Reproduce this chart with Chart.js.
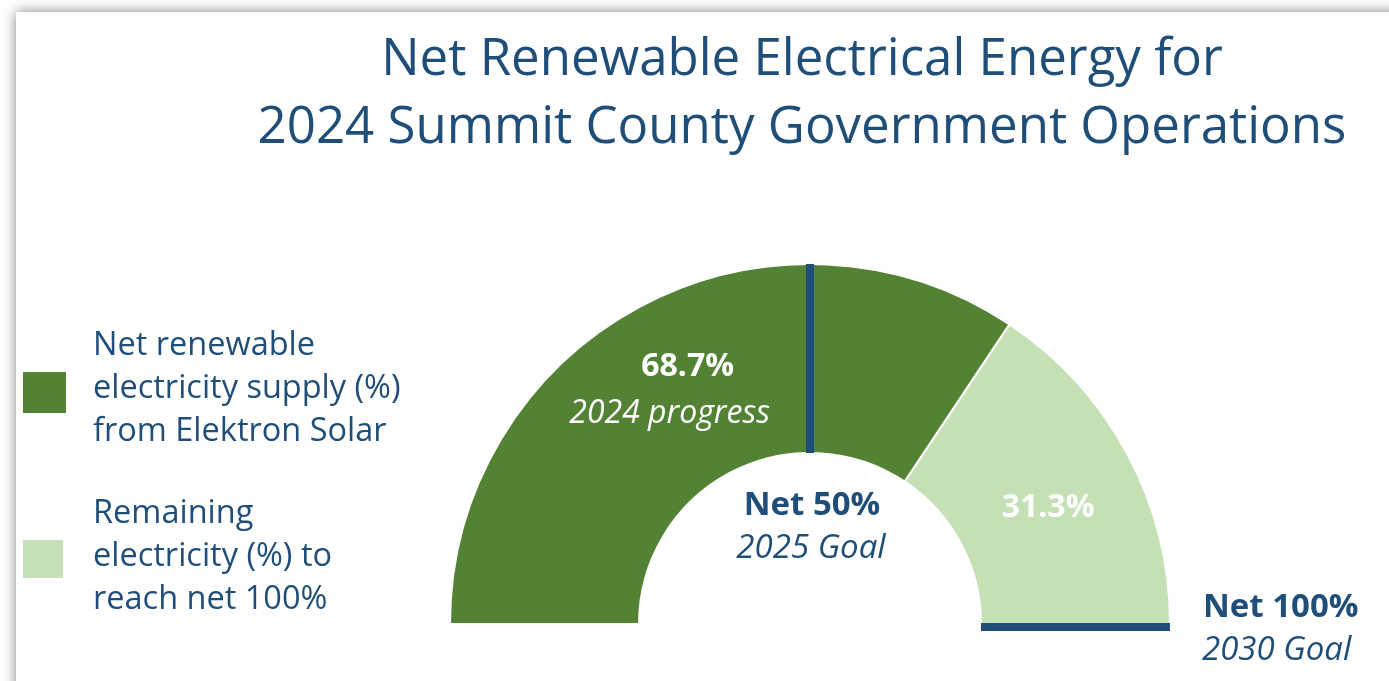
<!DOCTYPE html>
<html>
<head>
<meta charset="utf-8">
<script src="https://cdn.jsdelivr.net/npm/chart.js@4.4.1/dist/chart.umd.min.js"></script>
<style>
    html, body { margin: 0; padding: 0; background: #fff; overflow: hidden; }
    #panel { position: absolute; left: 16px; top: 12px; width: 1420px; height: 720px; background: #fff; box-shadow: 0 0 12px rgba(0, 0, 0, 0.5); }
    #wrap { position: absolute; left: 0; top: 0; width: 1389px; height: 681px; }
</style>
</head>
<body>
<div id="panel"></div>
<div id="wrap"><canvas id="renewableGauge"></canvas></div>
<script>
// data
const categories = ['Net renewable electricity supply (%) from Elektron Solar', 'Remaining electricity (%) to reach net 100%'];
const values = [68.7, 31.3];
const colours = ['#548235', '#c5e0b4'];
const sliceNotes = ['2024 progress', ''];
const goalValues = [50, 100];
const goalLabels = ['Net 50%', 'Net 100%'];
const goalNotes = ['2025 Goal', '2030 Goal'];
const titleLines = ['Net Renewable Electrical Energy for', '2024 Summit County Government Operations'];
const legendLines = [
    ['Net renewable', 'electricity supply (%)', 'from Elektron Solar'],
    ['Remaining', 'electricity (%) to', 'reach net 100%']
];

const BLUE = '#1f4e79';
const FONT = '"Open Sans", sans-serif';

const gaugeText = {
    id: 'gaugeText',
    afterDatasetsDraw: (chart) => {
        const { ctx } = chart;
        const meta = chart.getDatasetMeta(0);
        const arc = meta.data[0];
        const { x, y, innerRadius, outerRadius } = arc.getProps(['x', 'y', 'innerRadius', 'outerRadius'], true);
        ctx.save();

        // goal markers
        goalValues.forEach((g, i) => {
            const a = -Math.PI + g / 100 * Math.PI;
            const off = Math.abs(Math.sin(a)) < 0.1 ? 3 : 0;
            ctx.strokeStyle = BLUE;
            ctx.lineWidth = 8;
            ctx.beginPath();
            ctx.moveTo(x + Math.cos(a) * innerRadius, y + Math.sin(a) * innerRadius + off);
            ctx.lineTo(x + Math.cos(a) * outerRadius, y + Math.sin(a) * outerRadius + off);
            ctx.stroke();

            ctx.fillStyle = BLUE;
            ctx.textBaseline = 'alphabetic';
            if (Math.abs(Math.cos(a)) < 0.5) {
                ctx.textAlign = 'center';
                ctx.font = 'bold 33px ' + FONT;
                ctx.fillText(goalLabels[i], x + 2, y - innerRadius + 62);
                ctx.font = 'italic 33px ' + FONT;
                ctx.fillText(goalNotes[i], x + 1, y - innerRadius + 105);
            } else {
                ctx.textAlign = 'left';
                ctx.font = 'bold 33px ' + FONT;
                ctx.fillText(goalLabels[i], x + outerRadius + 33, y - 7);
                ctx.font = 'italic 33px ' + FONT;
                ctx.fillText(goalNotes[i], x + outerRadius + 32, y + 36);
            }
        });

        // slice labels
        meta.data.forEach((el, i) => {
            const c = el.getCenterPoint(true);
            ctx.fillStyle = '#fff';
            ctx.textAlign = 'center';
            ctx.textBaseline = 'alphabetic';
            ctx.font = 'bold 32px ' + FONT;
            const label = values[i].toFixed(1) + '%';
            if (sliceNotes[i]) {
                ctx.fillText(label, c.x + 3, c.y - 14);
                ctx.font = 'italic 32px ' + FONT;
                ctx.fillText(sliceNotes[i], c.x - 15, c.y + 33);
            } else {
                ctx.fillText(label, c.x + 4, c.y + 18);
            }
        });

        // title
        ctx.fillStyle = BLUE;
        ctx.textAlign = 'center';
        ctx.font = '51px ' + FONT;
        titleLines.forEach((t, i) => ctx.fillText(t, 802, 75 + i * 68));

        // legend
        ctx.textAlign = 'left';
        ctx.font = '32.5px ' + FONT;
        legendLines.forEach((lines, i) => {
            const top = i === 0 ? 355 : 523;
            ctx.fillStyle = colours[i];
            ctx.fillRect(23, top + 17, i === 0 ? 43 : 40, i === 0 ? 41 : 38);
            ctx.fillStyle = BLUE;
            lines.forEach((t, j) => ctx.fillText(t, 93, top + j * 43));
        });

        ctx.restore();
    }
};

const ctx = document.getElementById('renewableGauge');

new Chart(ctx, {
    type: 'doughnut',
    data: {
        labels: categories,
        datasets: [{
            data: values,
            backgroundColor: colours,
            borderColor: '#ffffff',
            borderWidth: 2,
        }]
    },
    options: {
        responsive: true,
        maintainAspectRatio: false,
        animation: false,
        rotation: -90,
        circumference: 180,
        radius: 360,
        cutout: '47.5%',
        layout: {
            padding: { left: 450, right: 219, top: 264, bottom: 57 }
        },
        plugins: {
            legend: { display: false },
            tooltip: { enabled: false }
        }
    },
    plugins: [gaugeText],
});
</script>
</body>
</html>
